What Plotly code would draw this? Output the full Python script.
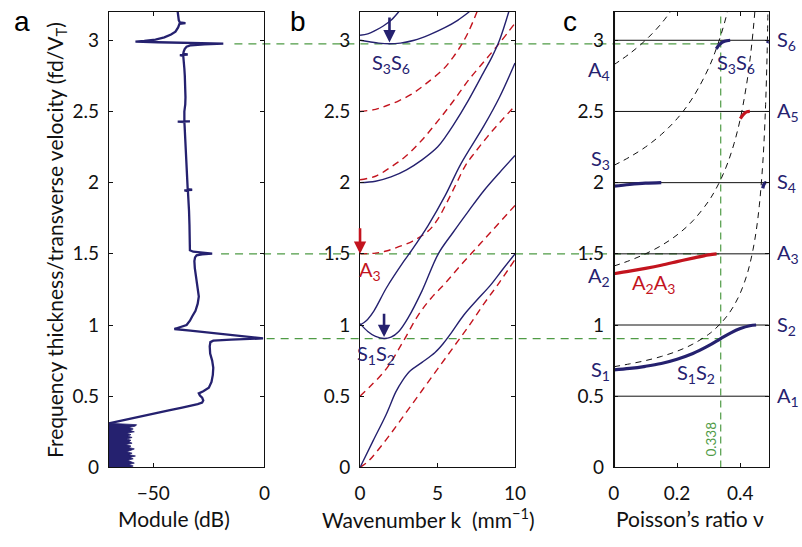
import plotly.graph_objects as go

NAVY = "#25216f"
RED = "#c3141e"
GREEN = "#4f9b45"
INK = "#111111"
FONT = "Lato"

# ---------------- panel a: module of the measured spectrum ----------------
spec_f = [3.20, 3.17, 3.14, 3.125, 3.12, 3.115, 3.09, 3.06, 3.04, 3.02, 3.005, 2.995,
          2.990, 2.986, 2.981, 2.976, 2.971, 2.965, 2.955, 2.94, 2.92, 2.905, 2.90,
          2.895, 2.89, 2.85, 2.80, 2.75, 2.70, 2.65, 2.60, 2.55, 2.50, 2.45, 2.432,
          2.430, 2.428, 2.426, 2.40, 2.30, 2.20, 2.10, 2.00, 1.955, 1.950, 1.945,
          1.94, 1.90, 1.80, 1.70, 1.60, 1.55, 1.525, 1.515, 1.508, 1.502, 1.497,
          1.49, 1.475, 1.45, 1.40, 1.35, 1.30, 1.25, 1.20, 1.15, 1.10, 1.06, 1.03,
          1.00, 0.985, 0.972, 0.960, 0.945, 0.925, 0.912, 0.906, 0.897, 0.890,
          0.880, 0.850, 0.800, 0.750, 0.700, 0.650, 0.600, 0.560, 0.535, 0.520,
          0.505, 0.490, 0.470, 0.455, 0.445, 0.435, 0.420, 0.400, 0.380, 0.360,
          0.340, 0.325, 0.315, 0.310]
spec_db = [-39.0, -38.8, -38.5, -38.0, -35.5, -38.2, -38.8, -40.0, -42.0, -45.0, -49.0,
           -54.0, -58.0, -48.0, -33.0, -18.5, -27.0, -33.0, -35.0, -35.8, -36.3, -36.5,
           -34.5, -38.0, -36.5, -36.4, -36.0, -35.8, -35.6, -35.4, -35.5, -35.6, -36.0,
           -36.0, -36.0, -33.5, -39.0, -36.0, -35.9, -35.6, -35.3, -35.0, -34.6, -34.5,
           -32.5, -36.0, -34.4, -34.2, -33.9, -33.7, -33.6, -33.5, -33.5, -32.0, -28.0,
           -23.5, -28.0, -30.5, -31.2, -31.5, -31.3, -30.8, -30.2, -29.8, -29.5, -30.0,
           -31.0, -32.5, -33.5, -35.0, -37.5, -40.5, -33.3, -24.4, -12.5, -4.7, -0.6,
           -15.0, -23.0, -24.3, -24.6, -24.4, -23.5, -23.0, -23.2, -23.8, -25.0, -27.5,
           -29.5, -29.0, -28.0, -27.5, -28.0, -30.0, -32.5, -37.0, -43.0, -49.0, -55.0,
           -61.0, -65.5, -68.0, -70.0]

# low-frequency noise floor: upper edge of the noisy band
noise_f = [0.00, 0.01, 0.02, 0.03, 0.04, 0.05, 0.06, 0.07, 0.08, 0.09, 0.10, 0.11,
           0.12, 0.13, 0.14, 0.15, 0.16, 0.17, 0.18, 0.19, 0.20, 0.21, 0.22, 0.23,
           0.24, 0.25, 0.26, 0.27, 0.28, 0.29, 0.30, 0.31]
noise_db = [-60.5, -59.0, -61.0, -58.5, -60.0, -61.5, -59.0, -60.5, -58.0, -61.0, -59.5,
            -62.0, -60.0, -58.5, -61.0, -60.0, -62.5, -59.5, -61.0, -60.0, -62.0, -59.5,
            -61.5, -60.0, -62.0, -58.5, -60.5, -59.0, -61.0, -58.0, -57.5, -66.0]

# green markers: zero-group-velocity frequencies and where their guide lines start
zgv_f = [2.975, 1.5, 0.905]
zgv_start_db = [-13.5, -19.5, 1.0]
nu_zgv = 0.338

# ---------------- panel b: dispersion curves, k (mm^-1) vs fd/VT ----------------
S0_k = [0, 0.84, 1.68, 2.31, 2.74, 3.26, 4.0, 4.84, 5.37, 5.89, 6.7, 7.5, 8.42, 9.2, 10]
S0_f = [0, 0.186, 0.37, 0.53, 0.61, 0.68, 0.738, 0.807, 0.87, 0.945, 1.07, 1.17, 1.28, 1.39, 1.5]
S1_k = [0, 0.5, 1.0, 1.55, 2.0, 2.5, 3.1, 4.0, 5.05, 6.0, 7.0, 8.0, 9.0, 10]
S1_f = [1.01, 0.955, 0.92, 0.905, 0.915, 0.955, 1.05, 1.24, 1.5, 1.65, 1.8, 1.945, 2.07, 2.19]
S2_k = [0, 0.4, 0.9, 1.7, 2.84, 3.3, 4.4, 5.5, 6.5, 8.0, 9.0, 10]
S2_f = [1.0, 1.03, 1.1, 1.26, 1.45, 1.52, 1.7, 1.91, 2.13, 2.4, 2.6, 2.84]
S4_k = [0, 1, 2, 3, 4, 5, 5.5, 6, 7, 8, 8.5, 9, 9.6]
S4_f = [2.0, 2.01, 2.04, 2.09, 2.16, 2.25, 2.32, 2.4, 2.58, 2.78, 2.88, 3.0, 3.2]
S6_k = [0, 0.6, 1.2, 1.9, 2.6, 3.5, 4.5, 5.5, 6.3, 7.05]
S6_f = [3.0, 2.99, 2.98, 2.975, 2.98, 3.0, 3.04, 3.09, 3.14, 3.2]
S3_k = [0, 0.5, 1.0, 1.5, 2.0, 2.5]
S3_f = [3.035, 3.045, 3.07, 3.1, 3.14, 3.2]

A0_k = [0, 0.5, 1, 2, 3, 4, 5, 6, 7, 8, 9, 10]
A0_f = [0, 0.04, 0.1, 0.24, 0.39, 0.54, 0.69, 0.84, 0.99, 1.15, 1.3, 1.46]
A1_k = [0, 0.63, 1.68, 2.74, 3.79, 4.6, 5.47, 6.5, 7.5, 8.5, 10]
A1_f = [0.5, 0.566, 0.69, 0.876, 1.075, 1.19, 1.29, 1.42, 1.54, 1.66, 1.84]
A3_k = [0, 1, 1.7, 2.5, 3.4, 4.4, 5.0, 5.6, 6.2, 6.8, 7.4, 8.2, 9.0, 10]
A3_f = [1.5, 1.505, 1.52, 1.55, 1.59, 1.66, 1.74, 1.86, 1.99, 2.12, 2.21, 2.32, 2.42, 2.54]
A2_k = [0, 1, 2, 3, 4, 5, 6, 7, 8, 9, 10]
A2_f = [2.02, 2.045, 2.11, 2.19, 2.3, 2.43, 2.57, 2.72, 2.85, 2.98, 3.12]
A5_k = [0, 1.0, 1.7, 2.5, 3.3, 4.2, 5.4, 6.0, 6.5, 7.0, 7.55]
A5_f = [2.5, 2.515, 2.54, 2.575, 2.62, 2.69, 2.8, 2.88, 2.96, 3.06, 3.2]

# ---------------- panel c: cut-off frequencies vs Poisson's ratio ----------------
nu_grid = [0, 0.05, 0.1, 0.15, 0.2, 0.25, 0.3, 0.32, 0.34, 0.36, 0.38, 0.40, 0.42,
           0.43, 0.44, 0.45, 0.46, 0.47, 0.475, 0.48, 0.485, 0.49]
cut_L1 = [0.707, 0.727, 0.750, 0.779, 0.816, 0.866, 0.935, 0.972, 1.016, 1.069, 1.137,
          1.225, 1.346, 1.427, 1.528, 1.658, 1.837, 2.102, 2.291, 2.550, 2.930, 3.536]
cut_L2 = [1.414, 1.453, 1.500, 1.558, 1.633, 1.732, 1.871, 1.944, 2.031, 2.138, 2.273,
          2.449, 2.693, 2.854, 3.055, 3.317, 3.674]
cut_L3 = [2.121, 2.180, 2.250, 2.338, 2.449, 2.598, 2.806, 2.916, 3.047, 3.207, 3.410]
cut_L4 = [2.828, 2.906, 3.000, 3.117, 3.266]

shear_f = [0.5, 1.0, 1.5, 2.0, 2.5, 3.0]
shear_names = ["A<sub>1</sub>", "S<sub>2</sub>", "A<sub>3</sub>",
               "S<sub>4</sub>", "A<sub>5</sub>", "S<sub>6</sub>"]

# ZGV branches (thick): S1S2, A2A3, S4, A5, S3S6
zgv12_nu = [0, 0.05, 0.1, 0.15, 0.2, 0.25, 0.3, 0.338, 0.37, 0.4, 0.43, 0.45]
zgv12_f = [0.685, 0.695, 0.71, 0.73, 0.76, 0.8, 0.855, 0.905, 0.945, 0.975, 0.995, 1.0]
zgv23_nu = [0, 0.05, 0.1, 0.15, 0.2, 0.25, 0.3, 0.325]
zgv23_f = [1.36, 1.378, 1.398, 1.42, 1.445, 1.47, 1.493, 1.5]
zgv4_nu = [0, 0.05, 0.1, 0.15]
zgv4_f = [1.975, 1.987, 1.996, 2.0]
zgv4b_nu = [0.471, 0.474, 0.478, 0.482]
zgv4b_f = [1.96, 1.985, 1.998, 2.0]
zgv5_nu = [0.40, 0.41, 0.42, 0.43]
zgv5_f = [2.45, 2.48, 2.497, 2.5]
zgv36_nu = [0.324, 0.335, 0.35, 0.368]
zgv36_f = [2.94, 2.972, 2.993, 3.0]
zgv6b_nu = [0.486, 0.49]
zgv6b_f = [2.98, 3.0]

# ---------------- layout geometry ----------------
DOM_A = [0.1309, 0.3292]
DOM_B = [0.4510, 0.6484]
DOM_C = [0.7743, 0.9717]
DOM_Y = [0.128, 0.978]
RANGE_A = [-70, 0]
RANGE_B = [0, 10]
RANGE_C = [0, 0.49]
RANGE_F = [0, 3.2]


def paper_x(dom, rng, v):
    return dom[0] + (v - rng[0]) / (rng[1] - rng[0]) * (dom[1] - dom[0])


fig = go.Figure()

# panel a
fig.add_trace(go.Scatter(
    x=noise_db + [-70, -70], y=noise_f + [noise_f[-1], noise_f[0]],
    fill="toself", fillcolor=NAVY, mode="lines",
    line=dict(color=NAVY, width=0.8), xaxis="x", yaxis="y"))
fig.add_trace(go.Scatter(x=spec_db, y=spec_f, mode="lines",
                         line=dict(color=NAVY, width=2.3), xaxis="x", yaxis="y"))

# panel b
sym = [(S0_k, S0_f), (S1_k, S1_f), (S2_k, S2_f), (S4_k, S4_f), (S6_k, S6_f), (S3_k, S3_f)]
anti = [(A0_k, A0_f), (A1_k, A1_f), (A3_k, A3_f), (A2_k, A2_f), (A5_k, A5_f)]
for k, f in anti:
    fig.add_trace(go.Scatter(x=k, y=f, mode="lines", line_shape="spline",
                             line=dict(color=RED, width=1.4, dash="7px,5px"),
                             xaxis="x2", yaxis="y2"))
for k, f in sym:
    fig.add_trace(go.Scatter(x=k, y=f, mode="lines", line_shape="spline",
                             line=dict(color=NAVY, width=1.4),
                             xaxis="x2", yaxis="y2"))

# panel c: longitudinal cut-offs (dashed)
for cut in (cut_L1, cut_L2, cut_L3, cut_L4):
    fig.add_trace(go.Scatter(x=nu_grid[:len(cut)], y=cut, mode="lines", line_shape="spline",
                             line=dict(color=INK, width=1, dash="6px,5px"),
                             xaxis="x3", yaxis="y3"))
# shear cut-offs (solid, independent of nu)
for f in shear_f:
    fig.add_trace(go.Scatter(x=RANGE_C, y=[f, f], mode="lines",
                             line=dict(color=INK, width=1), xaxis="x3", yaxis="y3"))
for nu, f, col in [(zgv12_nu, zgv12_f, NAVY), (zgv23_nu, zgv23_f, RED),
                   (zgv4_nu, zgv4_f, NAVY), (zgv4b_nu, zgv4b_f, NAVY),
                   (zgv5_nu, zgv5_f, RED), (zgv36_nu, zgv36_f, NAVY),
                   (zgv6b_nu, zgv6b_f, NAVY)]:
    fig.add_trace(go.Scatter(x=nu, y=f, mode="lines", line_shape="spline",
                             line=dict(color=col, width=3.2), xaxis="x3", yaxis="y3"))

# ---------------- shapes: green guide lines ----------------
shapes = []
x_end = paper_x(DOM_C, RANGE_C, nu_zgv)
for f, s in zip(zgv_f, zgv_start_db):
    shapes.append(dict(type="line", xref="paper", yref="y",
                       x0=paper_x(DOM_A, RANGE_A, s), x1=x_end, y0=f, y1=f,
                       line=dict(color=GREEN, width=1.2, dash="8px,6px"), layer="below"))
shapes.append(dict(type="line", xref="x3", yref="y3", x0=nu_zgv, x1=nu_zgv,
                   y0=RANGE_F[0], y1=RANGE_F[1],
                   line=dict(color=GREEN, width=1.2, dash="7px,5px"), layer="below"))
# heavier left frame of panel c
shapes.append(dict(type="line", xref="x3", yref="y3 domain", x0=0, x1=0, y0=0, y1=1,
                   line=dict(color=INK, width=2.4)))

# ---------------- axes ----------------
ftick = dict(family=FONT, size=19, color=INK)
ytickvals = [0, 0.5, 1, 1.5, 2, 2.5, 3]
yticktext = ["0", "0.5", "1", "1.5", "2", "2.5", "3"]


def xax(dom, rng, vals, text, anchor):
    return dict(domain=dom, range=rng, tickvals=vals, ticktext=text, ticks="inside",
                ticklen=4, tickcolor=INK, showline=True, linecolor=INK, linewidth=1,
                mirror="ticks", showgrid=False, zeroline=False, tickfont=ftick,
                anchor=anchor, ticklabelstandoff=9)


def yax(anchor):
    return dict(domain=DOM_Y, range=RANGE_F, tickvals=ytickvals, ticktext=yticktext,
                ticks="inside", ticklen=4, tickcolor=INK, showline=True, linecolor=INK,
                linewidth=1, mirror="ticks", showgrid=False, zeroline=False,
                tickfont=ftick, anchor=anchor, ticklabelstandoff=5)


fig.update_layout(
    xaxis=xax(DOM_A, RANGE_A, [-50, 0], ["\u221250", "0"], "y"),
    xaxis2=xax(DOM_B, RANGE_B, [0, 5, 10], ["0", "5", "10"], "y2"),
    xaxis3=xax(DOM_C, RANGE_C, [0, 0.2, 0.4], ["0", "0.2", "0.4"], "y3"),
    yaxis=yax("x"), yaxis2=yax("x2"), yaxis3=yax("x3"),
)

# ---------------- annotations ----------------
ann = []
ftitle = dict(family=FONT, size=21, color=INK)
ytit = 1 - 529 / 547
for text, xc in [("Module (dB)", 172),
                 ("Wavenumber k\u00a0\u00a0(mm<sup>\u22121</sup>)", 432),
                 ("Poisson\u2019s ratio \u03bd", 699)]:
    ann.append(dict(text=text, xref="paper", yref="paper", x=xc / 802, y=ytit,
                    xanchor="center", yanchor="middle", showarrow=False, font=ftitle))
ann.append(dict(text="Frequency thickness/transverse velocity (fd/V<sub>T</sub>)",
                xref="paper", yref="paper", x=51 / 802, y=1 - 245 / 547, textangle=-90,
                xanchor="center", yanchor="middle", showarrow=False, font=ftitle))
for letter, px in [("a", 16), ("b", 298), ("c", 576)]:
    ann.append(dict(text=letter, xref="paper", yref="paper", x=px / 802, y=1 - 22 / 547,
                    xanchor="center", yanchor="middle", showarrow=False,
                    font=dict(family="Liberation Sans", size=28, color="#000")))

flab = dict(family=FONT, size=20, color=NAVY)
flab_r = dict(family=FONT, size=20, color=RED)

# panel b labels and arrows
ann.append(dict(text="S<sub>3</sub>S<sub>6</sub>", xref="x2", yref="y2", x=2.0, y=2.84,
                showarrow=False, font=flab))
ann.append(dict(text="A<sub>3</sub>", xref="x2", yref="y2", x=0.63, y=1.38,
                showarrow=False, font=flab_r))
ann.append(dict(text="S<sub>1</sub>S<sub>2</sub>", xref="x2", yref="y2", x=1.05, y=0.795,
                showarrow=False, font=flab))
for (k, tip, tail, col) in [(1.9, 2.985, 3.17, NAVY), (0.0, 1.5, 1.69, RED),
                            (1.55, 0.915, 1.09, NAVY)]:
    ann.append(dict(text="", xref="x2", yref="y2", x=k, y=tip, axref="x2", ayref="y2",
                    ax=k, ay=tail, showarrow=True, arrowhead=2, arrowsize=0.95,
                    arrowwidth=2.6, arrowcolor=col))

# panel c labels
for f, name in zip(shear_f, shear_names):
    ann.append(dict(text=name, xref="x3", yref="y3", x=RANGE_C[1], y=f, xanchor="left",
                    yanchor="middle", xshift=6, showarrow=False, font=flab))
for name, f in [("A<sub>4</sub>", 2.79), ("S<sub>3</sub>", 2.16), ("A<sub>2</sub>", 1.34),
                ("S<sub>1</sub>", 0.68)]:
    ann.append(dict(text=name, xref="x3", yref="y3", x=0, y=f, xanchor="right",
                    yanchor="middle", xshift=-2, showarrow=False, font=flab))
ann.append(dict(text="S<sub>3</sub>S<sub>6</sub>", xref="x3", yref="y3", x=0.385, y=2.84,
                showarrow=False, font=flab))
ann.append(dict(text="A<sub>2</sub>A<sub>3</sub>", xref="x3", yref="y3", x=0.125, y=1.29,
                showarrow=False, font=flab_r))
ann.append(dict(text="S<sub>1</sub>S<sub>2</sub>", xref="x3", yref="y3", x=0.26, y=0.66,
                showarrow=False, font=flab))
ann.append(dict(text=str(nu_zgv), xref="x3", yref="y3", x=0.306, y=0.2, textangle=-90,
                showarrow=False, font=dict(family=FONT, size=13.5, color=GREEN)))

fig.update_layout(
    annotations=ann, shapes=shapes, showlegend=False,
    width=802, height=547, margin=dict(l=0, r=0, t=0, b=0),
    paper_bgcolor="white", plot_bgcolor="rgba(0,0,0,0)",
    font=dict(family=FONT, color=INK),
)

fig.write_html("out.html")
